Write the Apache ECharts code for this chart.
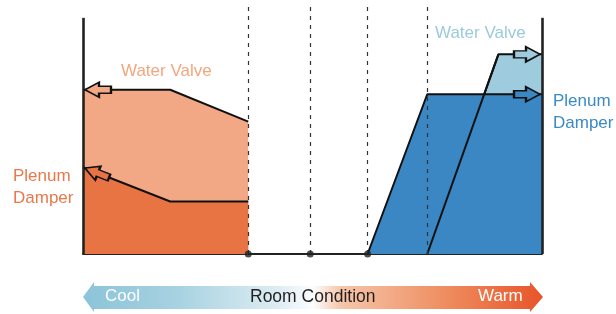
<!DOCTYPE html>
<html>
<head>
<meta charset="utf-8">
<script src="https://cdn.jsdelivr.net/npm/echarts@6/dist/echarts.min.js"></script>
<style>
  html, body { margin: 0; padding: 0; background: #fff; }
  #main { width: 616px; height: 314px; }
</style>
</head>
<body>
<div id="main"></div>
<script>
// room condition scale 0..100 (x), output 0..110 (y)
const conditionLines = [36, 49.5, 62, 75]
const conditionDots = [36, 49.5, 62]
const axisTop = 103.5

const heatValve = [[0, 72], [19, 72], [36, 58]]
const heatDamper = [[0, 38], [19, 23], [36, 23]]
const coolDamper = [[62, 0], [75, 70], [100, 70]]
const coolValve = [[75, 0], [90.5, 87.5], [100, 87.5]]

const colors = {
    heatValve: '#F2A884',
    heatDamper: '#E87443',
    coolValve: '#9ECCDE',
    coolDamper: '#3A87C3'
}

const font = '"Liberation Sans", Arial, sans-serif'
const arrowPath = 'path://M0 4 L12 4 L12 0 L26 7.5 L12 15 L12 11 L0 11 Z'
const arrowLen = 26

let myChart = echarts.init(document.getElementById('main'))

const areaSeries = (data, color, z) => ({
    type: 'line',
    data: data,
    z: z,
    symbol: 'none',
    silent: true,
    lineStyle: {color: '#111', width: 2},
    areaStyle: {color: color, opacity: 1}
})

const lineOnly = (data, z) => ({
    type: 'line',
    data: data,
    z: z,
    symbol: 'none',
    silent: true,
    lineStyle: {color: '#111', width: 2}
})

const arrow = (point, color, rotate, offset) => ({
    type: 'scatter',
    z: 20,
    silent: true,
    symbol: arrowPath,
    symbolSize: [arrowLen, 15],
    symbolRotate: rotate,
    symbolOffset: offset,
    itemStyle: {color: color, borderColor: '#111', borderWidth: 1.8, opacity: 1},
    data: [point]
})

// slope of the damper line in pixels
const pxX = 459 / 100, pxY = 251 / 110
const dAng = Math.atan2((heatDamper[0][1] - heatDamper[1][1]) * pxY, (heatDamper[1][0] - heatDamper[0][0]) * pxX)
const dDeg = dAng * 180 / Math.PI
const half = arrowLen / 2

let option = {
    backgroundColor: '#fff',
    animation: false,
    grid: {left: 83, right: 74, top: 3, bottom: 60},
    xAxis: {
        type: 'value', min: 0, max: 100,
        axisLine: {show: true, lineStyle: {color: '#222', width: 2}},
        axisTick: {show: false}, axisLabel: {show: false}, splitLine: {show: false}
    },
    yAxis: {
        type: 'value', min: 0, max: 110,
        axisLine: {show: false}, axisTick: {show: false},
        axisLabel: {show: false}, splitLine: {show: false}
    },
    series: [
        areaSeries(heatValve, colors.heatValve, 2),
        areaSeries(heatDamper, colors.heatDamper, 3),
        areaSeries(coolValve, colors.coolValve, 2),
        areaSeries(coolDamper, colors.coolDamper, 3),
        lineOnly(coolValve.slice(0, 2), 4),
        {
            type: 'line',
            data: [],
            z: 10,
            silent: true,
            markLine: {
                silent: true,
                symbol: 'none',
                label: {show: false},
                data: conditionLines.map(v => [{coord: [v, 0]}, {coord: [v, 110]}]),
                lineStyle: {color: '#333', width: 1.2, type: [4, 5]}
            }
        },
        {
            type: 'line',
            data: [],
            z: 11,
            silent: true,
            markLine: {
                silent: true,
                symbol: 'none',
                label: {show: false},
                data: [0, 100].map(v => [{coord: [v, 0]}, {coord: [v, axisTop]}]),
                lineStyle: {color: '#222', width: 2.6, type: 'solid'}
            }
        },
        {
            type: 'scatter',
            z: 12,
            silent: true,
            symbolSize: 7,
            itemStyle: {color: '#222'},
            data: conditionDots.map(v => [v, 0])
        },
        arrow(heatValve[0], colors.heatValve, 180, [half + 2, 0]),
        arrow(heatDamper[0], colors.heatDamper, 180 - dDeg,
            [(half + 2) * Math.cos(dAng), (half + 2) * Math.sin(dAng)]),
        arrow(coolValve[2], colors.coolValve, 0, [-half - 2, 0]),
        arrow(coolDamper[2], colors.coolDamper, 0, [-half - 2, 0])
    ],
    graphic: [
        {
            type: 'polygon',
            shape: {points: [[83, 297], [94, 282], [94, 286], [530, 286], [530, 282], [543, 297], [530, 312], [530, 309], [94, 309], [94, 312]]},
            style: {
                fill: new echarts.graphic.LinearGradient(0, 0, 1, 0, [
                    {offset: 0, color: '#8CC4D9'},
                    {offset: 0.2, color: '#A6D1E1'},
                    {offset: 0.42, color: '#DCECF2'},
                    {offset: 0.5, color: '#FBFDFE'},
                    {offset: 0.56, color: '#F6C6AA'},
                    {offset: 0.8, color: '#EE8A5C'},
                    {offset: 1, color: '#E8542A'}
                ])
            }
        },
        {type: 'text', left: 105, top: 288, style: {text: 'Cool', fill: '#fff', font: '17px ' + font}},
        {type: 'text', left: 250, top: 288, style: {text: 'Room Condition', fill: '#231F20', font: '17.5px ' + font}},
        {type: 'text', left: 478, top: 288, style: {text: 'Warm', fill: '#fff', font: '17px ' + font}},
        {type: 'text', left: 121, top: 63, style: {text: 'Water Valve', fill: '#F4A67F', font: '17px ' + font}},
        {type: 'text', left: 13, top: 165, style: {text: 'Plenum\nDamper', fill: '#E8794A', font: '17px ' + font, lineHeight: 22, align: 'right'}},
        {type: 'text', left: 435, top: 25, style: {text: 'Water Valve', fill: '#9ACBDD', font: '17px ' + font}},
        {type: 'text', left: 553, top: 90, style: {text: 'Plenum\nDamper', fill: '#3A8AC6', font: '17px ' + font, lineHeight: 22}}
    ]
}

myChart.setOption(option)
</script>
</body>
</html>
